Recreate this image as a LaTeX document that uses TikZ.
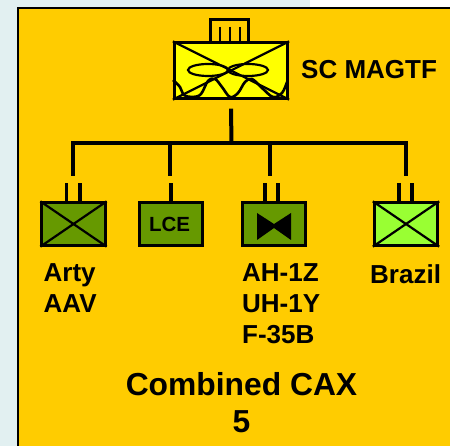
\documentclass[tikz,border=0pt]{standalone}
\usepackage{fontspec}
\setmainfont{Liberation Sans}
\definecolor{panelorange}{HTML}{FFCC00}
\definecolor{unitgreen}{HTML}{669900}
\definecolor{lightgreen}{HTML}{99FF33}
\definecolor{hqyellow}{HTML}{FFFF00}
\definecolor{backpale}{HTML}{E2F0F1}
\tikzset{
	unit/.style={draw=black, line width=2.8pt, minimum width=63.5pt, minimum height=42.5pt, inner sep=0pt, font=\bfseries\fontsize{20.5}{20.5}\selectfont},
	link/.style={line width=4pt},
	tick/.style={line width=3.4pt},
	cross/.style={line width=2.2pt},
	label/.style={font=\bfseries\fontsize{26}{31}\selectfont, align=center, inner sep=0pt},
}
\begin{document}
\begin{tikzpicture}[x=1pt, y=-1pt]
	\useasboundingbox (0, 0) rectangle (450, 446);
	\fill[backpale] (0, 0) rectangle (450, 446);
	\fill[white] (310, 0) rectangle (450, 7);
	\draw[fill=panelorange, line width=2.4pt] (18.2, 8) rectangle (460, 460);

	\node[draw, fill=panelorange, line width=2.6pt, minimum width=37.5pt, minimum height=23pt, inner sep=0pt] (flag) at (229.5, 31) {};
	\node[draw, fill=hqyellow, line width=2.8pt, minimum width=113.5pt, minimum height=55.5pt, inner sep=0pt] (hq) at (231, 70.5) {};
	\draw[cross] (220, 27) -- (220, 41);
	\draw[cross] (230, 27) -- (230, 41);
	\draw[cross] (240, 27) -- (240, 41);
	\draw[cross] (hq.north west) -- (hq.south east);
	\draw[cross] (hq.north east) -- (hq.south west);
	\draw[cross] (208, 70) ellipse (20 and 6);
	\draw[cross] (248, 70) ellipse (20 and 6);
	\draw[line width=2.6pt] plot[smooth, tension=0.6] coordinates { (173, 80) (180, 87) (184, 95) (193, 97) (201, 94) (208, 81) (215, 79) (222, 87) (230, 97) (238, 93) (245, 82) (252, 79) (262, 88) (273, 97) (282, 93) (287, 82) };

	\node[label, anchor=west] (hqlabel) at (301, 69.5) {SC MAGTF};

	\coordinate (bus) at (231.5, 143.5);
	\coordinate (busleft) at (72.5, 143.5);
	\coordinate (busright) at (406, 143.5);
	\node[unit, fill=unitgreen] (arty) at (73.5, 224) {};
	\node[unit, fill=unitgreen, text depth=0pt] (lce) at (171, 224) {\kern-3pt LCE};
	\node[unit, fill=unitgreen] (air) at (274, 224) {};
	\node[unit, fill=lightgreen] (brazil) at (406, 224) {};

	\draw[link] (hq.south) ++(0, 9) -- (bus);
	\draw[link] (busleft) -- (busright);
	\draw[link] (busleft) ++(0, -2) -- ++(0, 35);
	\draw[link] (170, 143.5) -- ++(0, 33);
	\draw[link] (270, 143.5) -- ++(0, 33);
	\draw[link] (busright) ++(0, -2) -- ++(0, 35);

	\draw[tick] ([xshift=-7]arty.north) -- ++(0, -18);
	\draw[tick] ([xshift=6.5]arty.north) -- ++(0, -18);
	\draw[tick] (lce.north) -- ++(0, -18);
	\draw[tick] ([xshift=-9]air.north) -- ++(0, -18);
	\draw[tick] ([xshift=4]air.north) -- ++(0, -18);
	\draw[tick] ([xshift=-7]brazil.north) -- ++(0, -18);
	\draw[tick] ([xshift=6]brazil.north) -- ++(0, -18);

	\draw[cross] (arty.north west) -- (arty.south east);
	\draw[cross] (arty.north east) -- (arty.south west);
	\draw[cross] (brazil.north west) -- (brazil.south east);
	\draw[cross] (brazil.north east) -- (brazil.south west);
	\fill[black] (257, 213) -- (274, 224) -- (291, 213) -- (291, 240) -- (274, 228) -- (257, 240) -- cycle;

	\node[label, anchor=north west, align=left] (artylabel) at (43.5, 263) {Arty\\AAV};
	\node[label, anchor=north west, align=left] (airlabel) at (242, 263) {AH-1Z\\UH-1Y\\F-35B};
	\node[label, anchor=north west] (brazillabel) at (370, 264) {Brazil};
	\node[font=\bfseries\fontsize{31.8}{37}\selectfont, align=center, inner sep=0pt, anchor=north] (title) at (241.5, 372) {Combined CAX\\5};
\end{tikzpicture}
\end{document}
